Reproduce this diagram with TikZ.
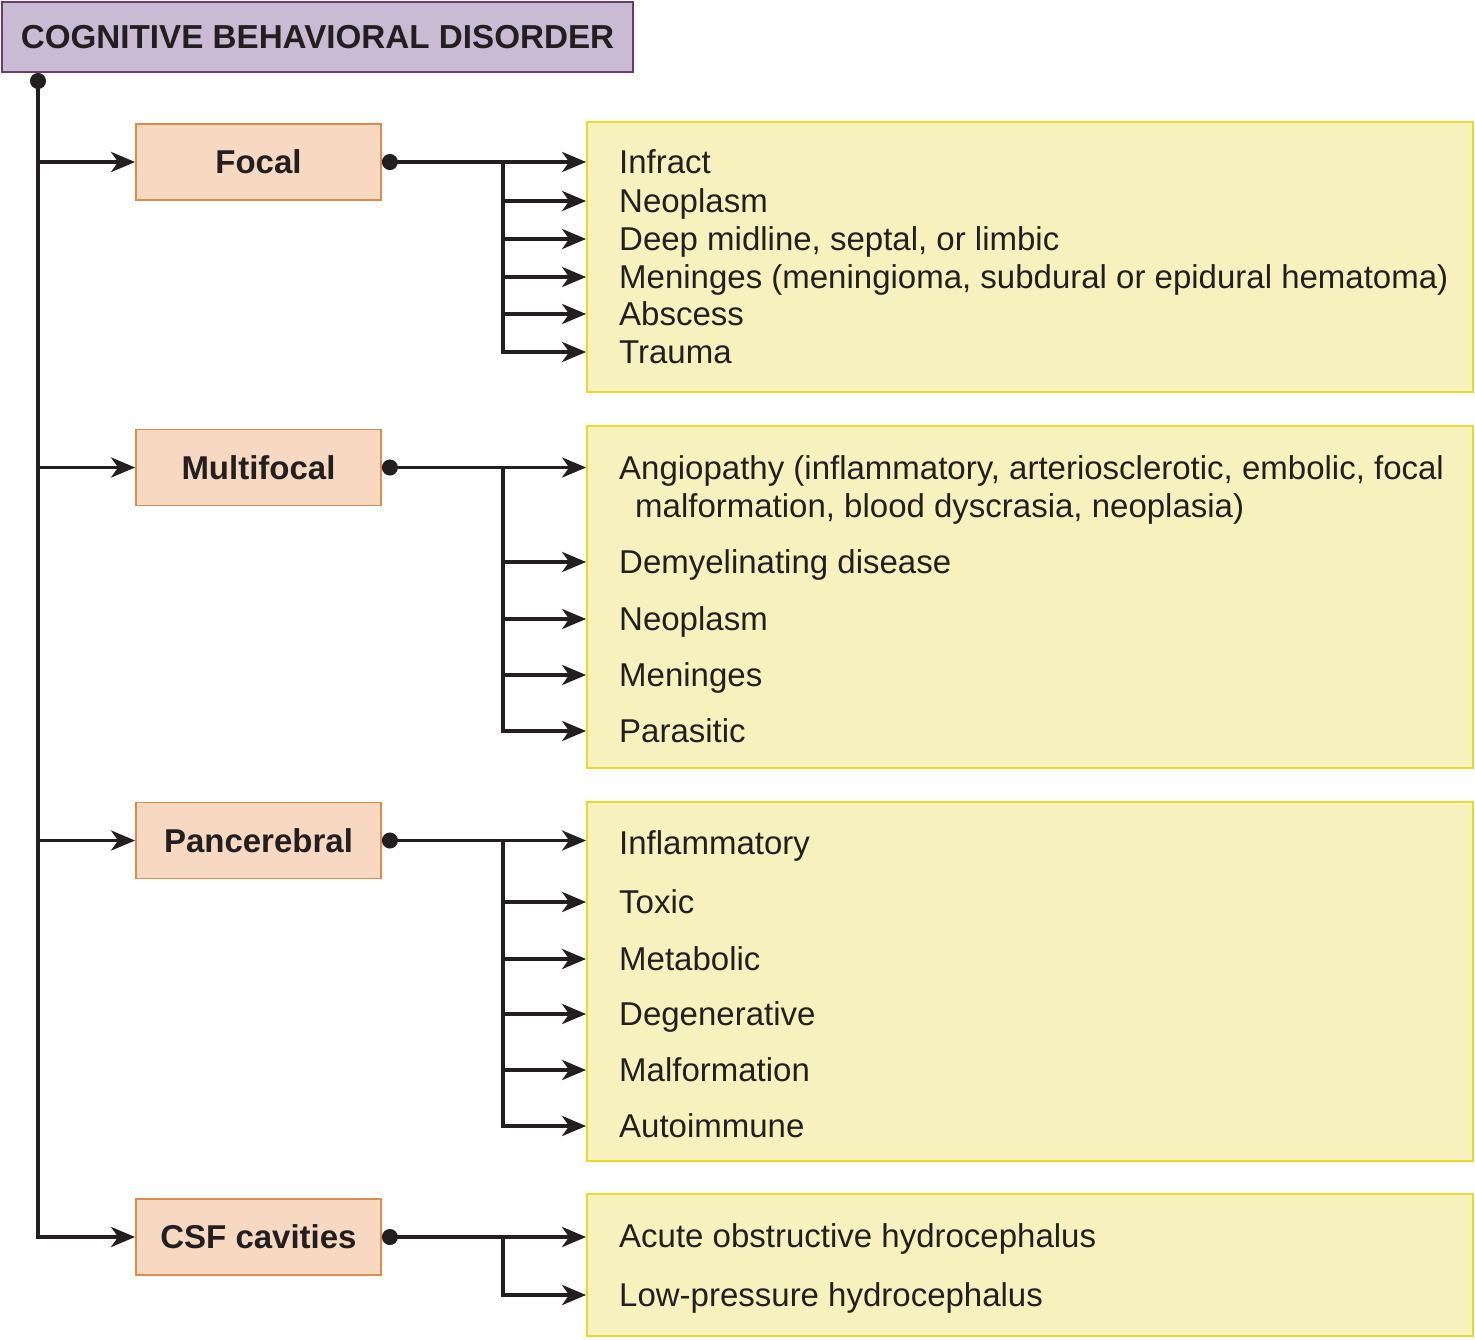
\documentclass[tikz,border=0pt]{standalone}
\usepackage{fontspec}
\setmainfont{Liberation Sans}
\usetikzlibrary{arrows.meta,calc}
\definecolor{ink}{HTML}{231F20}
\definecolor{titlefill}{HTML}{C9BBD3}
\definecolor{titledraw}{HTML}{6E3A72}
\definecolor{catfill}{HTML}{F6D9C0}
\definecolor{catdraw}{HTML}{E08A4C}
\definecolor{listfill}{HTML}{F7F2BD}
\definecolor{listdraw}{HTML}{E8DA28}
\tikzset{
 titlebox/.style={draw=titledraw, fill=titlefill, line width=2pt, minimum width=631pt, minimum height=70pt, inner sep=0pt, text=ink, font=\fontsize{33.2}{40}\selectfont\bfseries},
 catbox/.style={draw=catdraw, fill=catfill, line width=1.8pt, minimum width=245pt, minimum height=76pt, inner sep=0pt, text=ink, font=\fontsize{33}{39}\selectfont\bfseries},
 listbox/.style={draw=listdraw, fill=listfill, line width=1.8pt, inner sep=0pt, minimum width=886pt},
 itembase/.style={inner sep=0pt, text=ink, font=\fontsize{33}{38}\selectfont},
 item/.style={itembase, anchor=west, text height=23.5pt, text depth=0pt},
 arr/.style={draw=ink, line width=3.8pt, -{Stealth[length=24pt,width=20pt,inset=7pt]}},
 dotarr/.style={draw=ink, line width=3.8pt, {Circle[length=16pt,width=16pt]}-{Stealth[length=24pt,width=20pt,inset=7pt]}},
}
\begin{document}
\begin{tikzpicture}[x={(1pt,0)},y={(0,-1pt)}]
\useasboundingbox (0,0) rectangle (1475,1339);
% boxes
\node[titlebox] (title) at (317.5,37) {COGNITIVE BEHAVIORAL DISORDER};
\node[catbox] (focal) at (258.5,162) {Focal};
\node[catbox] (multi) at (258.5,467.5) {Multifocal};
\node[catbox] (pan) at (258.5,840.5) {Pancerebral};
\node[catbox] (csf) at (258.5,1237) {CSF cavities};
\node[listbox, minimum height=270pt] (fbox) at (1030,257) {};
\node[listbox, minimum height=342pt] (mbox) at (1030,597) {};
\node[listbox, minimum height=359pt] (pbox) at (1030,981.5) {};
\node[listbox, minimum height=142pt] (cbox) at (1030,1265) {};
% focal items
\node[item] (f1) at (619,162) {Infract};
\node[item] (f2) at (619,201) {Neoplasm};
\node[item] (f3) at (619,239) {Deep midline, septal, or limbic};
\node[item] (f4) at (619,277) {Meninges (meningioma, subdural or epidural hematoma)};
\node[item] (f5) at (619,314) {Abscess};
\node[item] (f6) at (619,352) {Trauma};
% multifocal items
\node[itembase, anchor=north west, align=left] (m1) at (619,455) {Angiopathy (inflammatory, arteriosclerotic, embolic, focal\\\hspace{16pt}malformation, blood dyscrasia, neoplasia)};
\node[item] (m2) at (619,562) {Demyelinating disease};
\node[item] (m3) at (619,619) {Neoplasm};
\node[item] (m4) at (619,675) {Meninges};
\node[item] (m5) at (619,731) {Parasitic};
% pancerebral items
\node[item] (p1) at (619,843) {Inflammatory};
\node[item] (p2) at (619,902) {Toxic};
\node[item] (p3) at (619,959) {Metabolic};
\node[item] (p4) at (619,1014) {Degenerative};
\node[item] (p5) at (619,1070) {Malformation};
\node[item] (p6) at (619,1126) {Autoimmune};
% csf items
\node[item] (c1) at (619,1236) {Acute obstructive hydrocephalus};
\node[item] (c2) at (619,1295) {Low-pressure hydrocephalus};
% trunk
\coordinate (trunk) at ([xshift=37pt]title.south west);
\draw[dotarr] (trunk) |- (csf.west);
\draw[arr] (trunk |- focal.west) -- (focal.west);
\draw[arr] (trunk |- multi.west) -- (multi.west);
\draw[arr] (trunk |- pan.west) -- (pan.west);
% focal branch
\draw[dotarr] (focal.east) -- (fbox.west |- focal.east);
\coordinate (fb) at ([xshift=121pt]focal.east);
\foreach \i in {2,...,6} \draw[arr] (fb) |- (fbox.west |- f\i.west);
% multifocal branch
\draw[dotarr] (multi.east) -- (mbox.west |- multi.east);
\coordinate (mb) at ([xshift=121pt]multi.east);
\foreach \i in {2,...,5} \draw[arr] (mb) |- (mbox.west |- m\i.west);
% pancerebral branch
\draw[dotarr] (pan.east) -- (pbox.west |- pan.east);
\coordinate (pb) at ([xshift=121pt]pan.east);
\foreach \i in {2,...,6} \draw[arr] (pb) |- (pbox.west |- p\i.west);
% csf branch
\draw[dotarr] (csf.east) -- (cbox.west |- csf.east);
\coordinate (cb) at ([xshift=121pt]csf.east);
\draw[arr] (cb) |- (cbox.west |- c2.west);
\end{tikzpicture}
\end{document}
